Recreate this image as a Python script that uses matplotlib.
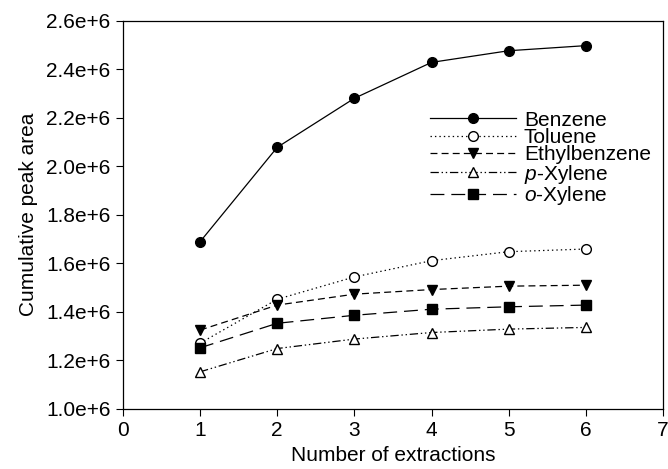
import matplotlib
matplotlib.use("Agg")
import matplotlib.pyplot as plt

plt.rcParams['font.family'] = ['Liberation Sans', 'DejaVu Sans']
plt.rcParams['lines.scale_dashes'] = False
plt.rcParams['mathtext.fontset'] = 'custom'
plt.rcParams['mathtext.it'] = 'Liberation Sans:italic'

# data
extractions = [1, 2, 3, 4, 5, 6]
benzene = [1.689e6, 2.078e6, 2.280e6, 2.428e6, 2.476e6, 2.497e6]
toluene = [1.271e6, 1.452e6, 1.544e6, 1.611e6, 1.648e6, 1.659e6]
ethylbenzene = [1.325e6, 1.428e6, 1.473e6, 1.492e6, 1.506e6, 1.510e6]
p_xylene = [1.153e6, 1.249e6, 1.288e6, 1.315e6, 1.329e6, 1.336e6]
o_xylene = [1.252e6, 1.353e6, 1.386e6, 1.411e6, 1.421e6, 1.428e6]

y_ticks = [1.0e6, 1.2e6, 1.4e6, 1.6e6, 1.8e6, 2.0e6, 2.2e6, 2.4e6, 2.6e6]
y_tick_labels = ['1.0e+6', '1.2e+6', '1.4e+6', '1.6e+6', '1.8e+6',
                 '2.0e+6', '2.2e+6', '2.4e+6', '2.6e+6']
x_ticks = [0, 1, 2, 3, 4, 5, 6, 7]

fig = plt.figure(figsize=(6.68, 4.69), dpi=100)
ax = fig.add_axes([0.184, 0.128, 0.8085, 0.828])

lw = 0.9
ms = 7
ax.plot(extractions, benzene, color='black', lw=lw, ls='-',
        marker='o', ms=ms, mfc='black', mec='black', label='Benzene')
ax.plot(extractions, toluene, color='black', lw=lw, ls=(0, (1, 2.2)),
        marker='o', ms=ms, mfc='white', mec='black', mew=1, label='Toluene')
ax.plot(extractions, ethylbenzene, color='black', lw=lw, ls=(0, (5, 3)),
        marker='v', ms=ms + 0.5, mfc='black', mec='black', label='Ethylbenzene')
ax.plot(extractions, p_xylene, color='black', lw=lw, ls=(0, (6, 2, 1, 2, 1, 2)),
        marker='^', ms=ms + 0.5, mfc='white', mec='black', mew=1, label='$p$-Xylene')
ax.plot(extractions, o_xylene, color='black', lw=lw, ls=(0, (10, 5)),
        marker='s', ms=ms - 0.5, mfc='black', mec='black', label='$o$-Xylene')

ax.set_xlim(0, 7)
ax.set_ylim(1.0e6, 2.6e6)
ax.set_xticks(x_ticks)
ax.set_yticks(y_ticks)
ax.set_yticklabels(y_tick_labels)
ax.tick_params(direction='out', length=5, width=0.8, labelsize=15, pad=4,
               colors='black')
for s in ax.spines.values():
    s.set_linewidth(0.9)

ax.set_xlabel('Number of extractions', fontsize=15, labelpad=4)
ax.set_ylabel('Cumulative peak area', fontsize=15, labelpad=6)

leg = ax.legend(loc='upper left', bbox_to_anchor=(0.569, 0.768), frameon=False,
                fontsize=15, handlelength=4.1, handletextpad=0.4,
                labelspacing=-0.08, borderpad=0, borderaxespad=0)

fig.savefig('out.png', dpi=100)
